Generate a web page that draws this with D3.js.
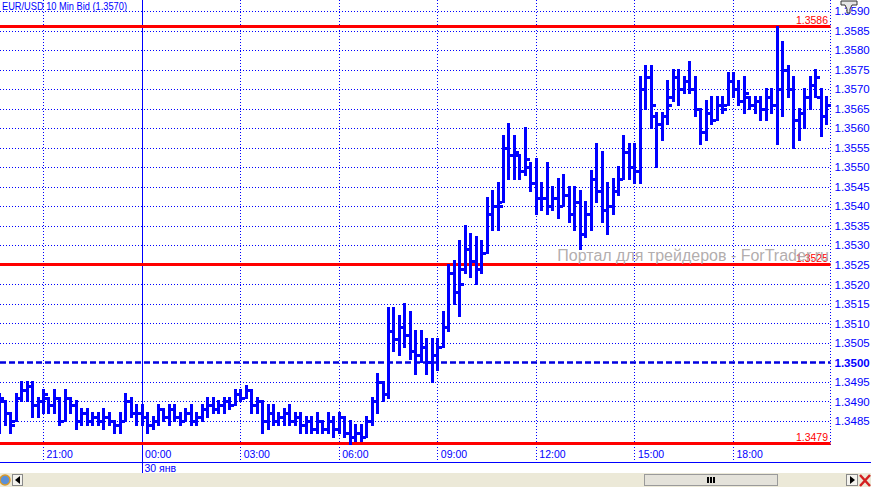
<!DOCTYPE html>
<html>
<head>
<meta charset="utf-8">
<script src="https://cdn.jsdelivr.net/npm/d3@7"></script>
<style>
body { margin: 0; background: #fff; }
svg { display: block; font-family: "Liberation Sans", Arial, sans-serif; }
</style>
</head>
<body>
<div id="chart"></div>
<script>
var title = "EUR/USD 10 Min Bid (1.3570)"
var firstBar = "2013-01-29 19:40"
var barMinutes = 10

var opens = [
    1.3490, 1.3490, 1.3487, 1.3485, 1.3491, 1.3493, 1.3494, 1.3489, 1.3490, 1.3491,
    1.3489, 1.3491, 1.3485, 1.3491, 1.3489, 1.3485, 1.3487, 1.3485, 1.3486, 1.3485,
    1.3486, 1.3485, 1.3484, 1.3485, 1.3490, 1.3487, 1.3487, 1.3486, 1.3484, 1.3485,
    1.3488, 1.3486, 1.3488, 1.3486, 1.3485, 1.3487, 1.3485, 1.3486, 1.3488, 1.3489,
    1.3488, 1.3489, 1.3490, 1.3489, 1.3492, 1.3491, 1.3493, 1.3489, 1.3490, 1.3485,
    1.3487, 1.3485, 1.3486, 1.3487, 1.3485, 1.3486, 1.3484, 1.3485, 1.3483, 1.3485,
    1.3483, 1.3485, 1.3483, 1.3486, 1.3482, 1.3481, 1.3482, 1.3481, 1.3485, 1.3490,
    1.3495, 1.3492, 1.3508, 1.3506, 1.3509, 1.3507, 1.3503, 1.3502, 1.3504, 1.3500,
    1.3502, 1.3504, 1.3509, 1.3523, 1.3518, 1.3524, 1.3529, 1.3526, 1.3524, 1.3528,
    1.3538, 1.3540, 1.3541, 1.3555, 1.3553, 1.3553, 1.3549, 1.3550, 1.3546, 1.3542,
    1.3542, 1.3540, 1.3542, 1.3540, 1.3543, 1.3538, 1.3541, 1.3533, 1.3538, 1.3547,
    1.3544, 1.3539, 1.3540, 1.3544, 1.3547, 1.3554, 1.3550, 1.3549, 1.3570, 1.3573,
    1.3563, 1.3561, 1.3563, 1.3568, 1.3573, 1.3570, 1.3572, 1.3570, 1.3565, 1.3559,
    1.3564, 1.3562, 1.3566, 1.3566, 1.3572, 1.3570, 1.3567, 1.3568, 1.3566, 1.3567,
    1.3565, 1.3568, 1.3566, 1.3570, 1.3575, 1.3570, 1.3562, 1.3564, 1.3568, 1.3571,
    1.3568, 1.3563
]

var highs = [
    1.3492, 1.3490, 1.3487, 1.3492, 1.3495, 1.3495, 1.3495, 1.3491, 1.3493, 1.3491,
    1.3493, 1.3491, 1.3493, 1.3491, 1.3490, 1.3488, 1.3488, 1.3487, 1.3487, 1.3488,
    1.3487, 1.3485, 1.3487, 1.3492, 1.3491, 1.3489, 1.3489, 1.3487, 1.3486, 1.3489,
    1.3488, 1.3489, 1.3489, 1.3487, 1.3488, 1.3489, 1.3487, 1.3489, 1.3491, 1.3491,
    1.3490, 1.3491, 1.3491, 1.3493, 1.3493, 1.3494, 1.3493, 1.3491, 1.3490, 1.3489,
    1.3489, 1.3487, 1.3488, 1.3489, 1.3487, 1.3487, 1.3486, 1.3486, 1.3487, 1.3485,
    1.3487, 1.3486, 1.3487, 1.3486, 1.3485, 1.3484, 1.3484, 1.3486, 1.3491, 1.3497,
    1.3495, 1.3514, 1.3514, 1.3512, 1.3515, 1.3513, 1.3508, 1.3508, 1.3506, 1.3506,
    1.3506, 1.3513, 1.3525, 1.3526, 1.3531, 1.3535, 1.3533, 1.3532, 1.3531, 1.3542,
    1.3544, 1.3546, 1.3558, 1.3561, 1.3558, 1.3553, 1.3560, 1.3551, 1.3552, 1.3546,
    1.3551, 1.3545, 1.3547, 1.3548, 1.3545, 1.3545, 1.3544, 1.3541, 1.3549, 1.3556,
    1.3554, 1.3546, 1.3547, 1.3550, 1.3558, 1.3556, 1.3556, 1.3573, 1.3576, 1.3576,
    1.3564, 1.3564, 1.3572, 1.3575, 1.3575, 1.3573, 1.3577, 1.3573, 1.3565, 1.3567,
    1.3568, 1.3568, 1.3568, 1.3574, 1.3574, 1.3572, 1.3573, 1.3568, 1.3568, 1.3568,
    1.3570, 1.3570, 1.3586, 1.3582, 1.3576, 1.3573, 1.3565, 1.3570, 1.3573, 1.3575,
    1.3570, 1.3568
]

var lows = [
    1.3482, 1.3484, 1.3482, 1.3485, 1.3490, 1.3490, 1.3486, 1.3486, 1.3487, 1.3487,
    1.3487, 1.3484, 1.3485, 1.3487, 1.3483, 1.3484, 1.3484, 1.3484, 1.3484, 1.3483,
    1.3484, 1.3482, 1.3482, 1.3485, 1.3486, 1.3484, 1.3484, 1.3482, 1.3483, 1.3484,
    1.3485, 1.3484, 1.3485, 1.3484, 1.3485, 1.3484, 1.3484, 1.3485, 1.3486, 1.3487,
    1.3487, 1.3487, 1.3488, 1.3489, 1.3490, 1.3491, 1.3487, 1.3487, 1.3482, 1.3483,
    1.3484, 1.3484, 1.3484, 1.3484, 1.3484, 1.3482, 1.3482, 1.3482, 1.3482, 1.3482,
    1.3482, 1.3481, 1.3482, 1.3481, 1.3479, 1.3480, 1.3480, 1.3481, 1.3484, 1.3487,
    1.3490, 1.3491, 1.3503, 1.3502, 1.3504, 1.3501, 1.3497, 1.3500, 1.3497, 1.3495,
    1.3498, 1.3504, 1.3508, 1.3515, 1.3512, 1.3523, 1.3522, 1.3520, 1.3523, 1.3528,
    1.3534, 1.3534, 1.3541, 1.3547, 1.3547, 1.3547, 1.3548, 1.3544, 1.3538, 1.3539,
    1.3538, 1.3539, 1.3537, 1.3540, 1.3536, 1.3534, 1.3529, 1.3532, 1.3534, 1.3541,
    1.3536, 1.3533, 1.3538, 1.3543, 1.3547, 1.3547, 1.3546, 1.3546, 1.3565, 1.3560,
    1.3550, 1.3557, 1.3561, 1.3567, 1.3566, 1.3569, 1.3569, 1.3563, 1.3556, 1.3557,
    1.3561, 1.3562, 1.3564, 1.3566, 1.3568, 1.3566, 1.3564, 1.3565, 1.3564, 1.3562,
    1.3562, 1.3564, 1.3556, 1.3563, 1.3568, 1.3555, 1.3557, 1.3560, 1.3565, 1.3568,
    1.3558, 1.3561
]

var closes = [
    1.3491, 1.3487, 1.3484, 1.3491, 1.3493, 1.3494, 1.3489, 1.3490, 1.3492, 1.3489,
    1.3491, 1.3485, 1.3491, 1.3489, 1.3485, 1.3487, 1.3485, 1.3486, 1.3485, 1.3486,
    1.3485, 1.3484, 1.3485, 1.3490, 1.3487, 1.3487, 1.3486, 1.3484, 1.3485, 1.3488,
    1.3486, 1.3488, 1.3486, 1.3485, 1.3487, 1.3485, 1.3486, 1.3488, 1.3489, 1.3488,
    1.3489, 1.3490, 1.3489, 1.3492, 1.3491, 1.3493, 1.3489, 1.3490, 1.3485, 1.3487,
    1.3485, 1.3486, 1.3487, 1.3485, 1.3486, 1.3484, 1.3485, 1.3483, 1.3485, 1.3483,
    1.3485, 1.3483, 1.3486, 1.3482, 1.3481, 1.3482, 1.3481, 1.3485, 1.3490, 1.3495,
    1.3492, 1.3508, 1.3506, 1.3509, 1.3507, 1.3503, 1.3502, 1.3504, 1.3500, 1.3502,
    1.3504, 1.3509, 1.3523, 1.3518, 1.3520, 1.3529, 1.3526, 1.3524, 1.3528, 1.3538,
    1.3540, 1.3540, 1.3555, 1.3553, 1.3554, 1.3549, 1.3552, 1.3546, 1.3542, 1.3542,
    1.3540, 1.3542, 1.3540, 1.3543, 1.3538, 1.3541, 1.3533, 1.3538, 1.3547, 1.3544,
    1.3539, 1.3540, 1.3544, 1.3547, 1.3554, 1.3550, 1.3549, 1.3570, 1.3573, 1.3566,
    1.3561, 1.3563, 1.3566, 1.3573, 1.3570, 1.3572, 1.3570, 1.3565, 1.3559, 1.3564,
    1.3562, 1.3566, 1.3565, 1.3572, 1.3570, 1.3567, 1.3569, 1.3566, 1.3567, 1.3565,
    1.3568, 1.3566, 1.3570, 1.3575, 1.3570, 1.3562, 1.3564, 1.3568, 1.3571, 1.3573,
    1.3563, 1.3566
]

var priceTicks = [1.3485, 1.3490, 1.3495, 1.3500, 1.3505, 1.3510, 1.3515, 1.3520, 1.3525,
    1.3530, 1.3535, 1.3540, 1.3545, 1.3550, 1.3555, 1.3560, 1.3565, 1.3570, 1.3575,
    1.3580, 1.3585, 1.3590]
var timeTicks = ["2013-01-29 21:00", "2013-01-30 00:00", "2013-01-30 03:00", "2013-01-30 06:00",
    "2013-01-30 09:00", "2013-01-30 12:00", "2013-01-30 15:00", "2013-01-30 18:00"]
var dayBreak = "2013-01-30 00:00"
var dayLabel = "30 янв"
var levels = [1.3586, 1.3525, 1.3479]
var pivot = 1.3500
var watermark = "Портал для трейдеров - ForTrader.ru"

var blue = "#0000ff"
var width = 871
var height = 487
var plotRight = 830.5
var plotBottom = 446
var axisLine = 462.5
var scrollTop = 473

var parse = d3.timeParse("%Y-%m-%d %H:%M")
var fmt = d3.format(".4f")

var svg = d3.select("#chart")
    .append("svg")
    .attr("width", width)
    .attr("height", height)

var x = d3.scaleTime()
    .domain([parse(timeTicks[0]), parse(timeTicks[timeTicks.length - 1])])
    .range([43, 733])

var y = d3.scaleLinear()
    .domain([1.3485, 1.3590])
    .range([421, 11])

var t0 = parse(firstBar)
var bars = opens.map((o, i) => {
    return {
        "time": d3.timeMinute.offset(t0, i * barMinutes),
        "open": o, "high": highs[i], "low": lows[i], "close": closes[i]
    }
})

// horizontal grid
svg.append("g").selectAll("line")
    .data(priceTicks.filter((d) => { return d !== pivot }))
    .enter()
    .append("line")
    .attr("x1", 0)
    .attr("x2", plotRight)
    .attr("y1", (d) => { return Math.round(y(d)) + 0.5 })
    .attr("y2", (d) => { return Math.round(y(d)) + 0.5 })
    .attr("stroke", blue)
    .attr("stroke-dasharray", "1,2")

// vertical grid
svg.append("g").selectAll("line")
    .data(timeTicks.filter((d) => { return d !== dayBreak }))
    .enter()
    .append("line")
    .attr("x1", (d) => { return Math.round(x(parse(d))) + 0.5 })
    .attr("x2", (d) => { return Math.round(x(parse(d))) + 0.5 })
    .attr("y1", 0)
    .attr("y2", axisLine)
    .attr("stroke", blue)
    .attr("stroke-dasharray", "1,2")

// right axis border
svg.append("line")
    .attr("x1", plotRight).attr("x2", plotRight)
    .attr("y1", 0).attr("y2", plotBottom)
    .attr("stroke", blue)
    .attr("stroke-dasharray", "1,2")

// day separator
var xd = Math.round(x(parse(dayBreak))) + 0.5
svg.append("line")
    .attr("x1", xd).attr("x2", xd)
    .attr("y1", 0).attr("y2", scrollTop)
    .attr("stroke", blue)

// pivot dashed line
svg.append("line")
    .attr("x1", 0).attr("x2", plotRight)
    .attr("y1", Math.round(y(pivot)) + 0.5)
    .attr("y2", Math.round(y(pivot)) + 0.5)
    .attr("stroke", "#0000e0")
    .attr("stroke-width", 2.5)
    .attr("stroke-dasharray", "6,3")

// red levels
var lv = svg.append("g")
lv.selectAll("line")
    .data(levels)
    .enter()
    .append("line")
    .attr("x1", 0).attr("x2", plotRight)
    .attr("y1", (d) => { return Math.round(y(d)) - 0.5 })
    .attr("y2", (d) => { return Math.round(y(d)) - 0.5 })
    .attr("stroke", "#ff0000")
    .attr("stroke-width", 3)
lv.selectAll("text")
    .data(levels)
    .enter()
    .append("text")
    .attr("x", 828)
    .attr("y", (d) => { return Math.round(y(d)) - 3 })
    .attr("text-anchor", "end")
    .attr("font-size", "10.5px")
    .attr("fill", "#ff0000")
    .text((d) => { return fmt(d) })

// watermark, painted over the level label like the original
svg.append("text")
    .attr("x", 829)
    .attr("y", 261)
    .attr("text-anchor", "end")
    .attr("font-size", "16px")
    .attr("fill", "#a9a3a3")
    .attr("fill-opacity", 0.9)
    .text(watermark)

// OHLC bars
var g = svg.append("g").attr("fill", blue).attr("shape-rendering", "crispEdges")
var bar = g.selectAll("g")
    .data(bars)
    .enter()
    .append("g")
    .attr("transform", (d) => { return "translate(" + Math.round(x(d.time)) + ",0)" })
bar.append("rect")
    .attr("x", -1).attr("width", 3)
    .attr("y", (d) => { return Math.round(y(d.high)) - 1 })
    .attr("height", (d) => { return Math.round(y(d.low)) - Math.round(y(d.high)) + 2 })
bar.append("rect")
    .attr("x", -4).attr("width", 3).attr("height", 3)
    .attr("y", (d) => { return Math.round(y(d.open)) - 1 })
bar.append("rect")
    .attr("x", 2).attr("width", 3).attr("height", 3)
    .attr("y", (d) => { return Math.round(y(d.close)) - 1 })

// right price axis
var yAxis = d3.axisRight(y).tickValues(priceTicks).tickSize(0).tickFormat(fmt)
var ya = svg.append("g")
    .attr("transform", "translate(" + (plotRight + 3) + ",0)")
    .call(yAxis)
ya.select(".domain").remove()
ya.selectAll("text")
    .attr("x", 1)
    .attr("font-size", "11.5px")
    .attr("font-family", "Liberation Sans, Arial, sans-serif")
    .attr("fill", blue)
    .attr("font-weight", (d) => { return d === pivot ? "bold" : "normal" })

// time axis
var xAxis = d3.axisBottom(x)
    .tickValues(timeTicks.map(parse))
    .tickSize(0)
    .tickFormat(d3.timeFormat("%H:%M"))
var xa = svg.append("g")
    .attr("transform", "translate(0," + 449 + ")")
    .call(xAxis)
xa.select(".domain").remove()
xa.selectAll("text")
    .attr("text-anchor", "start")
    .attr("x", 3)
    .attr("y", 0)
    .attr("dy", "0.85em")
    .attr("font-size", "10.5px")
    .attr("font-family", "Liberation Sans, Arial, sans-serif")
    .attr("fill", blue)

svg.append("line")
    .attr("x1", 0).attr("x2", width)
    .attr("y1", axisLine).attr("y2", axisLine)
    .attr("stroke", blue)

svg.append("text")
    .attr("x", xd + 2)
    .attr("y", 472)
    .attr("font-size", "10.5px")
    .attr("fill", blue)
    .text(dayLabel)

// title
svg.append("text")
    .attr("x", 2)
    .attr("y", 9.5)
    .attr("font-size", "11px")
    .attr("textLength", 125)
    .attr("lengthAdjust", "spacingAndGlyphs")
    .attr("fill", blue)
    .text(title)

// top-right tool icon
svg.append("path")
    .attr("d", "M841,1 L857,1 L857,5 L852,5 L850,9 L850,13 L847,13 L847,9 L845,5 L841,5 Z")
    .attr("fill", "#e6e6e6")
    .attr("stroke", "#333")
    .attr("stroke-width", 1)

// scroll bar strip
var sb = svg.append("g")
sb.append("rect")
    .attr("x", 0).attr("y", scrollTop)
    .attr("width", width).attr("height", height - scrollTop)
    .attr("fill", "#ece9d8")
sb.append("circle")
    .attr("cx", 5).attr("cy", 480).attr("r", 5)
    .attr("fill", "#5b8fd6").attr("stroke", "#d99a2b").attr("stroke-width", 1.5)
sb.append("rect")
    .attr("x", 12.5).attr("y", 474.5).attr("width", 10).attr("height", 11)
    .attr("fill", "#f4f3ee").attr("stroke", "#8a8a8a")
sb.append("path")
    .attr("d", "M15,480 L20,476 L20,484 Z").attr("fill", "#000")
sb.append("rect")
    .attr("x", 644.5).attr("y", 474.5).attr("width", 133).attr("height", 11)
    .attr("fill", "#e4e2da").attr("stroke", "#9a9a9a")
sb.selectAll(".grip")
    .data([0, 1, 2])
    .enter()
    .append("rect")
    .attr("x", (d) => { return 707 + d * 3 })
    .attr("y", 477).attr("width", 2).attr("height", 6)
    .attr("fill", "#000")
sb.append("rect")
    .attr("x", 846.5).attr("y", 474.5).attr("width", 11).attr("height", 11)
    .attr("fill", "#f4f3ee").attr("stroke", "#8a8a8a")
sb.append("path")
    .attr("d", "M850,476 L855,480 L850,484 Z").attr("fill", "#000")
sb.append("path")
    .attr("d", "M860,475 L870,486 M870,475 L860,486")
    .attr("stroke", "#d42020").attr("stroke-width", 2.5)
</script>
</body>
</html>
